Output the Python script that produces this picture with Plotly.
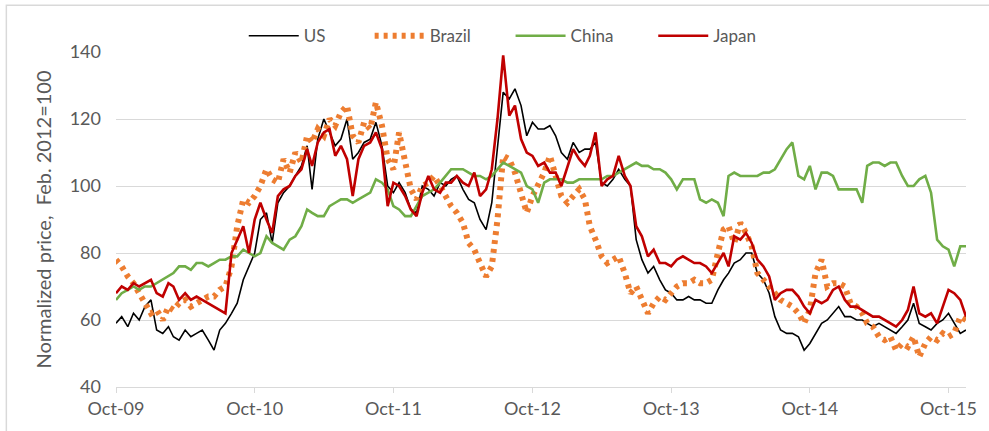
"""Normalized prices, US / Brazil / China / Japan, Oct-09 to Nov-15."""
import pandas as pd
import plotly.graph_objects as go

# semi-monthly observation dates (1st and 16th of each month)
dates = []
for d in pd.date_range("2009-10-01", "2015-11-01", freq="MS"):
    dates.append(d)
    dates.append(d + pd.Timedelta(days=15))

us = [59, 61, 58, 62, 60, 64, 66, 57, 56, 58,
      55, 54, 57, 55, 56, 57, 54, 51, 57, 59,
      62, 65, 72, 76, 80, 90, 92, 83, 95, 98,
      100, 103, 106, 112, 99, 114, 120, 116, 112, 114,
      120, 108, 110, 113, 114, 119, 112, 100, 98, 101,
      98, 93, 92, 100, 99, 97, 101, 100, 102, 103,
      99, 96, 95, 90, 87, 95, 112, 128, 126, 129,
      124, 115, 119, 117, 117, 118, 115, 110, 108, 113,
      110, 111, 111, 113, 101, 100, 102, 105, 102, 100,
      84, 78, 74, 76, 72, 69, 68, 66, 66, 67,
      66, 66, 65, 65, 69, 72, 74, 77, 78, 80,
      80, 74, 72, 68, 61, 57, 56, 56, 55, 51,
      53, 56, 59, 60, 62, 64, 61, 61, 60, 60,
      59, 58, 59, 58, 57, 56, 58, 60, 65, 59,
      58, 57, 59, 60, 62, 59, 56, 57]

brazil = [78, 76, 73, 71, 68, 65, 62, 63, 60, 64,
          63, 65, 66, 64, 65, 66, 67, 67, 69, 70,
          76, 88, 96, 95, 97, 100, 105, 102, 101, 108,
          104, 110, 107, 115, 113, 117, 115, 120, 118, 122,
          124, 115, 113, 119, 117, 125, 118, 108, 105, 116,
          108, 99, 96, 100, 101, 103, 100, 97, 94, 92,
          89, 83, 81, 77, 73, 76, 90, 109, 108, 104,
          98, 92, 97, 100, 104, 109, 103, 97, 95, 97,
          99, 96, 88, 84, 79, 77, 78, 79, 74, 68,
          70, 66, 62, 65, 67, 66, 68, 70, 71, 71,
          72, 71, 71, 72, 80, 87, 88, 83, 89, 86,
          82, 74, 72, 70, 68, 66, 65, 64, 62, 59,
          63, 74, 78, 70, 71, 71, 70, 65, 64, 62,
          59, 58, 55, 54, 55, 51, 53, 52, 55, 49,
          53, 55, 54, 56, 55, 56, 61, 60]

china = [66, 68, 69, 70, 69, 70, 70, 71, 72, 73,
         74, 76, 76, 75, 77, 77, 76, 77, 78, 78,
         79, 79, 81, 80, 79, 80, 85, 83, 82, 81,
         84, 85, 88, 93, 92, 91, 91, 94, 95, 96,
         96, 95, 96, 97, 98, 102, 101, 99, 94, 93,
         91, 91, 94, 97, 98, 99, 101, 103, 105, 105,
         105, 104, 103, 103, 102, 103, 105, 107, 106, 105,
         104, 100, 99, 95, 101, 102, 102, 102, 101, 101,
         102, 102, 102, 102, 102, 103, 103, 104, 105, 106,
         107, 106, 106, 105, 105, 104, 102, 99, 102, 102,
         102, 96, 95, 96, 95, 91, 103, 104, 103, 103,
         103, 103, 104, 104, 105, 108, 111, 113, 103, 102,
         106, 99, 104, 104, 103, 99, 99, 99, 99, 95,
         106, 107, 107, 106, 107, 107, 103, 100, 100, 102,
         103, 98, 84, 82, 81, 76, 82, 82]

japan = [68, 70, 69, 71, 70, 71, 72, 68, 67, 71,
         70, 66, 68, 66, 67, 66, 65, 64, 63, 62,
         80, 84, 88, 80, 90, 95, 90, 86, 97, 99,
         100, 103, 105, 111, 106, 113, 116, 117, 109, 112,
         108, 97, 108, 112, 113, 116, 111, 94, 101, 100,
         97, 93, 91, 98, 103, 99, 98, 101, 101, 103,
         101, 100, 104, 97, 99, 105, 120, 139, 121, 124,
         114, 110, 109, 106, 107, 104, 104, 100, 106, 111,
         108, 106, 109, 116, 100, 102, 103, 109, 103, 100,
         88, 85, 79, 81, 77, 77, 76, 78, 79, 78,
         77, 77, 76, 74, 77, 80, 76, 85, 84, 86,
         83, 78, 76, 73, 66, 68, 69, 69, 67, 64,
         62, 66, 65, 66, 69, 70, 66, 64, 64, 63,
         62, 61, 61, 60, 59, 58, 60, 63, 70, 62,
         61, 62, 59, 64, 69, 68, 66, 61]

tick_dates = ["2009-10-01", "2010-10-01", "2011-10-01", "2012-10-01",
              "2013-10-01", "2014-10-01", "2015-10-01"]
tick_text = ["Oct-09", "Oct-10", "Oct-11", "Oct-12", "Oct-13", "Oct-14", "Oct-15"]

GREY = "#595959"
FONT = "Lato"
PAD = "\u00a0"  # keeps the legend entries spread like the original

fig = go.Figure()
fig.add_trace(go.Scatter(x=dates, y=us, name="US" + PAD * 9, mode="lines",
                         line=dict(color="#000000", width=1.6)))
fig.add_trace(go.Scatter(x=dates, y=brazil, name="Brazil" + PAD * 8, mode="lines",
                         line=dict(color="#ED7D31", width=6, dash="4px,5px")))
fig.add_trace(go.Scatter(x=dates, y=china, name="China" + PAD * 8, mode="lines",
                         line=dict(color="#70AD47", width=2.6)))
fig.add_trace(go.Scatter(x=dates, y=japan, name="Japan", mode="lines",
                         line=dict(color="#C00000", width=2.6)))

fig.update_xaxes(range=["2009-10-01", "2015-11-16"], tickvals=tick_dates,
                 ticktext=tick_text, showgrid=False, showline=True,
                 linecolor="#D9D9D9", linewidth=1, ticks="outside",
                 ticklen=5, tickcolor="#D9D9D9",
                 tickfont=dict(family=FONT, size=18, color=GREY))
fig.update_yaxes(range=[40, 140], dtick=20, showgrid=True, gridcolor="#D9D9D9",
                 gridwidth=1, zeroline=False, showline=False,
                 tickfont=dict(family=FONT, size=18, color=GREY), ticks="",
                 ticklabelstandoff=14,
                 title=dict(text="Normalized price,  Feb. 2012=100",
                            font=dict(family=FONT, size=20, color=GREY),
                            standoff=12))

# light frame around the whole chart
fig.add_shape(type="rect", xref="paper", yref="paper",
              x0=-0.129, x1=1.03, y0=-0.2, y1=1.1395,
              line=dict(color="#D9D9D9", width=1.5), layer="below")

fig.update_layout(width=989, height=431, plot_bgcolor="white", paper_bgcolor="white",
                  margin=dict(l=116, r=21, t=52, b=42),
                  font=dict(family=FONT, color=GREY),
                  legend=dict(orientation="h", x=0.455, xanchor="center",
                              y=1.047, yanchor="middle",
                              font=dict(family=FONT, size=17, color=GREY),
                              itemwidth=50, bgcolor="rgba(0,0,0,0)"))

fig.write_html("out.html", config={"displayModeBar": False},
               post_script="document.body.style.margin='0';"
                           "document.documentElement.style.overflow='hidden';")
